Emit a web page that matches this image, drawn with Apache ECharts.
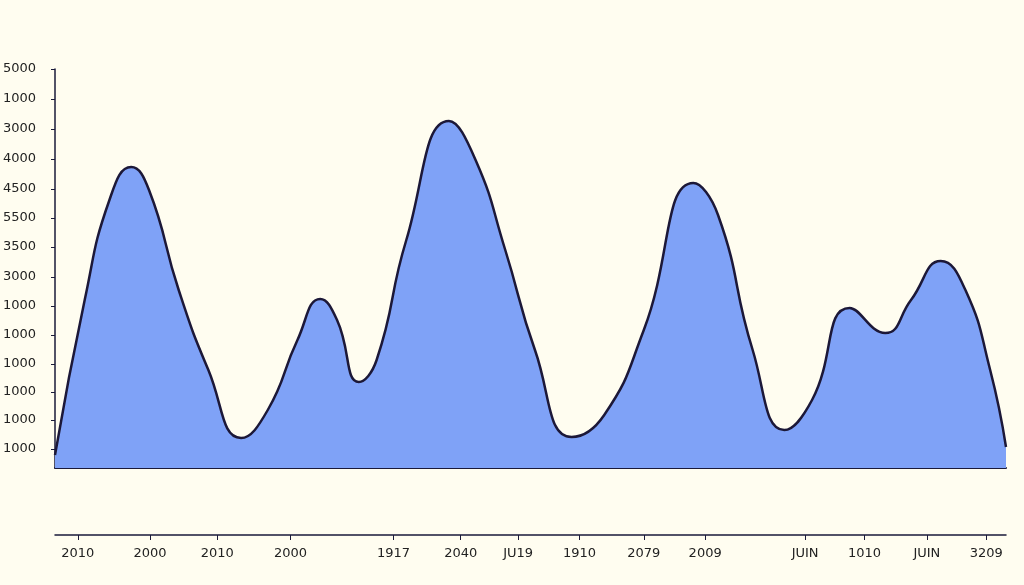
<!DOCTYPE html>
<html><head><meta charset="utf-8">
<script src="https://cdn.jsdelivr.net/npm/echarts@6/dist/echarts.min.js"></script>
<style>html,body{margin:0;padding:0;background:#fffdf0}#c{width:1024px;height:585px}</style>
</head><body><div id="c"></div>
<script>
// curve samples (x position along axis, height)
const xs = [0,30,55,77,95,125,155,188,215,245,268,285,307,325,355,398,425,455,485,522,555,595,645,670,705,737,765,803,839,865,895,920,945,961];
const ys = [13,168,268,301,278,178,98,30,58,128,169,148,86,108,228,347,308,218,118,31,53,138,285,253,118,38,68,160,135,168,207,178,98,21];
const yTickVals = [399,369,339,309,279,250,221,191,162,133,104,76,48,19];
const yTickLabels = ["5000","1000","3000","4000","4500","5500","3500","3000","1000","1000","1000","1000","1000","1000"];
const xTickVals = [23,96,164,238,342,410,468,530,595,657,758,818,881,941];
const xTickLabels = ["2010","2000","2010","2000","1917","2040","JU19","1910","2079","2009","JUIN","1010","JUIN","3209"];

const chart = echarts.init(document.getElementById('c'));
const font = {fontFamily:'DejaVu Sans', fontSize:13, color:'#222'};
chart.setOption({
  backgroundColor:'#fffdf0',
  animation:false,
  grid:{left:45,right:18,top:69,bottom:117},
  xAxis:[{type:'value',min:0,max:961,axisLine:{show:true,lineStyle:{color:'#1a1a3a',width:2}},axisTick:{show:false},axisLabel:{show:false},splitLine:{show:false}},
         {type:'value',min:0,max:961,position:'bottom',offset:67,axisLine:{show:true,lineStyle:{color:'#1a1a3a',width:1.5}},
          axisTick:{show:true,length:5,inside:false,customValues:xTickVals,lineStyle:{color:'#1a1a3a'}},
          axisLabel:Object.assign({customValues:xTickVals,margin:12,formatter:v=>xTickLabels[xTickVals.indexOf(v)]||''},font),splitLine:{show:false}}],
  yAxis:{type:'value',min:0,max:399,axisLine:{show:true,lineStyle:{color:'#1a1a3a',width:1.5}},
    axisTick:{show:true,length:4,customValues:yTickVals,lineStyle:{color:'#1a1a3a'}},
    axisLabel:Object.assign({customValues:yTickVals,margin:12,align:'left',padding:[0,0,0,-40],formatter:v=>yTickLabels[yTickVals.indexOf(v)]||''},font),
    splitLine:{show:false}},
  series:[{type:'line',smooth:0.5,symbol:'none',data:xs.map((x,i)=>[x,ys[i]]),
    lineStyle:{color:'#1c1838',width:2.5},areaStyle:{color:'#7fa2f7',opacity:1}}]
});
</script></body></html>
